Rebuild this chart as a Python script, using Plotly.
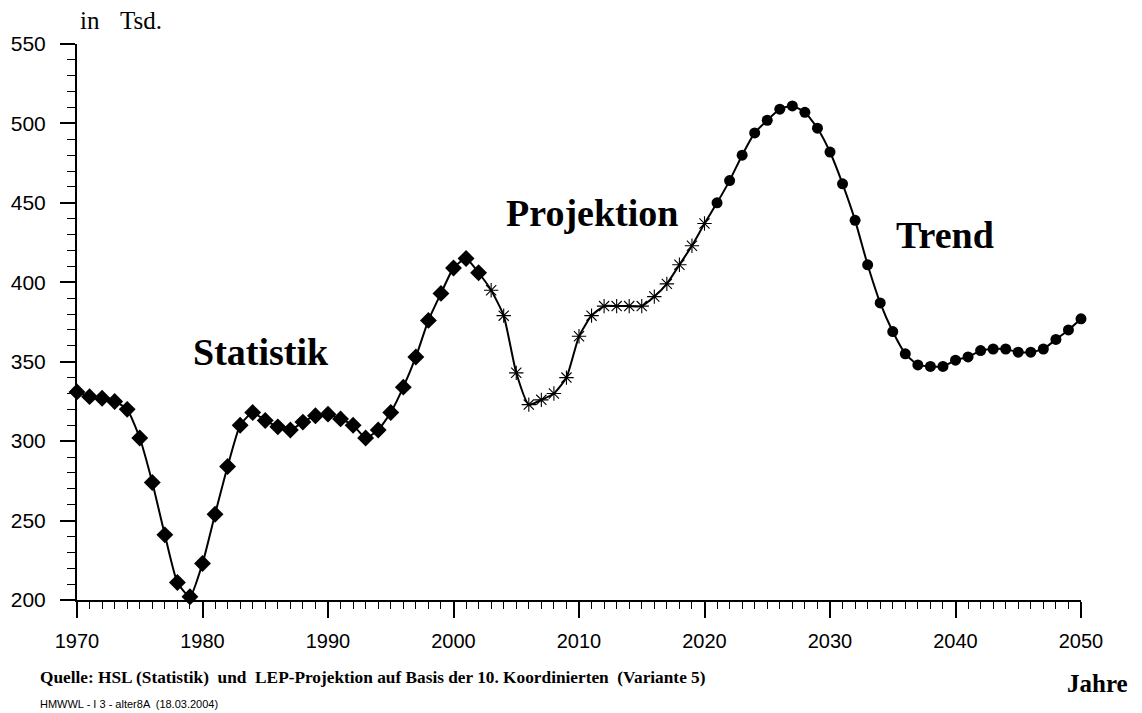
import plotly.graph_objects as go

# ---- data ----
years_stat = list(range(1970, 2003))
vals_stat = [331, 328, 327, 325, 320, 302, 274, 241, 211, 202,
             223, 254, 284, 310, 318, 313, 309, 307, 312, 316,
             317, 314, 310, 302, 307, 318, 334, 353, 376, 393,
             409, 415, 406]
years_proj = list(range(2003, 2021))
vals_proj = [395, 379, 343, 323, 326, 330, 340, 366, 379, 385,
             385, 385, 385, 391, 399, 411, 423, 437]
years_trend = list(range(2021, 2051))
vals_trend = [450, 464, 480, 494, 502, 509, 511, 507, 497, 482,
              462, 439, 411, 387, 369, 355, 348, 347, 347, 351,
              353, 357, 358, 358, 356, 356, 358, 364, 370, 377]

all_years = years_stat + years_proj + years_trend
all_vals = vals_stat + vals_proj + vals_trend

fig = go.Figure()
fig.add_trace(go.Scatter(x=all_years, y=all_vals, mode="lines",
                         line=dict(color="black", width=2, shape="spline", smoothing=0.5),
                         cliponaxis=False, hoverinfo="skip"))
fig.add_trace(go.Scatter(x=years_stat, y=vals_stat, mode="markers",
                         marker=dict(symbol="diamond", size=13, color="black"),
                         cliponaxis=False))
fig.add_trace(go.Scatter(x=years_proj, y=vals_proj, mode="markers",
                         marker=dict(symbol="asterisk-open", size=12, color="black",
                                     line=dict(color="black", width=1.1)),
                         cliponaxis=False))
fig.add_trace(go.Scatter(x=years_trend, y=vals_trend, mode="markers",
                         marker=dict(symbol="circle", size=11, color="black"),
                         cliponaxis=False))

serif = "Liberation Serif, Times New Roman, serif"
sans = "Liberation Sans, Arial, sans-serif"

for (x, y, txt) in [(1984.7, 356, "<b>Statistik</b>"),
                    (2011.0, 443.5, "<b>Projektion</b>"),
                    (2039.2, 430, "<b>Trend</b>")]:
    fig.add_annotation(x=x, y=y, xref="x", yref="y", text=txt, showarrow=False,
                       font=dict(family=serif, size=38, color="black"))

fig.update_layout(
    width=1142, height=713, autosize=False,
    margin=dict(l=77, r=61, t=44, b=113),
    paper_bgcolor="white", plot_bgcolor="white",
    showlegend=False,
    xaxis=dict(range=[1970, 2050], dtick=10, tick0=1970, ticks="outside", ticklen=16,
               tickwidth=1.5, tickcolor="black", showgrid=False, zeroline=False,
               showline=True, linecolor="black", linewidth=2,
               tickfont=dict(family=sans, size=20, color="black"),
               ticklabelstandoff=6,
               minor=dict(dtick=1, ticks="outside", ticklen=7, tickcolor="black", tickwidth=1, showgrid=False)),
    yaxis=dict(range=[200, 550], dtick=50, tick0=200, ticks="outside", ticklen=15,
               tickwidth=1.5, tickcolor="black", showgrid=False, zeroline=False,
               showline=True, linecolor="black", linewidth=2,
               tickfont=dict(family=sans, size=21, color="black"),
               ticklabelstandoff=10,
               minor=dict(dtick=10, ticks="outside", ticklen=8, tickcolor="black", tickwidth=1, showgrid=False)),
)

pw = 1142 - 77 - 61
ph = 713 - 44 - 113
def px2paper(px, py):
    return (px - 77) / pw, (713 - 113 - py) / ph

for (px, py, txt, fam, size, anchor) in [
    (78, 20, "in", serif, 25, "left"),
    (118, 20, "Tsd.", serif, 25, "left"),
    (38, 677, "<b>Quelle: HSL (Statistik)  und  LEP-Projektion auf Basis der 10. Koordinierten  (Variante 5)</b>", serif, 17.3, "left"),
    (1130, 683, "<b>Jahre</b>", serif, 25, "right"),
    (38, 704, "HMWWL - I 3 - alter8A  (18.03.2004)", sans, 11, "left"),
]:
    xp, yp = px2paper(px, py)
    fig.add_annotation(x=xp, y=yp, xref="paper", yref="paper", text=txt, showarrow=False,
                       xanchor=anchor, yanchor="middle", font=dict(family=fam, size=size, color="black"))

fig.write_html("out.html", config={"displayModeBar": False},
               post_script="document.body.style.margin='0px';document.body.style.overflow='hidden';")
